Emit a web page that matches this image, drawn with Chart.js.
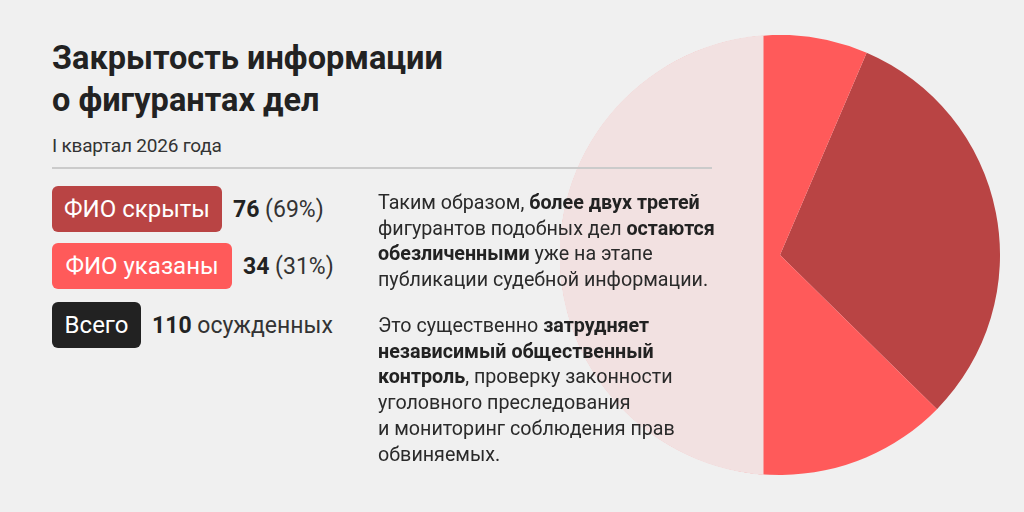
<!DOCTYPE html>
<html lang="ru">
<head>
<meta charset="utf-8">
<script src="https://cdn.jsdelivr.net/npm/chart.js@4"></script>
<style>
  html, body { margin: 0; padding: 0; }
  body {
    width: 1024px; height: 512px; overflow: hidden;
    background: #f0f0f0; position: relative;
    font-family: Roboto, "Noto Sans", sans-serif; color: #222;
  }
  #pie-wrap { position: absolute; left: 560px; top: 35px; width: 440px; height: 440px; z-index: 0; }
  .txt { position: absolute; z-index: 1; }
  .title { left: 52px; top: 37px; font-size: 32.5px; line-height: 42px; font-weight: 700; }
  .sub { left: 52px; top: 134px; font-size: 19px; line-height: 24px; color: #333; letter-spacing: -0.2px; }
  .rule { position: absolute; left: 52px; top: 167px; width: 660px; height: 2px; background: #cbcbcb; z-index: 1; }
  .row { position: absolute; left: 52px; display: flex; align-items: center; z-index: 1; }
  .tag { height: 46px; border-radius: 6px; color: #fff; font-size: 24px; display: flex;
         align-items: center; justify-content: center; }
  .val { font-size: 23px; margin-left: 11px; color: #333; }
  .val b { color: #222; }
  .para { left: 378px; font-size: 19.7px; line-height: 25.7px; color: #2a2a2a; }
  .para b { color: #222; }
</style>
</head>
<body>
<div id="pie-wrap"><canvas id="pie"></canvas></div>

<div class="txt title">Закрытость информации<br>о фигурантах дел</div>
<div class="txt sub">I квартал 2026 года</div>
<div class="rule"></div>

<div id="legend"></div>

<div class="txt para" style="top:190px">Таким образом, <b>более двух третей</b><br>фигурантов подобных дел <b>остаются</b><br><b>обезличенными</b> уже на этапе<br>публикации судебной информации.</div>
<div class="txt para" style="top:313px">Это существенно <b>затрудняет</b><br><b>независимый общественный</b><br><b>контроль</b>, проверку законности<br>уголовного преследования<br>и мониторинг соблюдения прав<br>обвиняемых.</div>

<script>
/* ---- DATA ---- */
const categories = ['ФИО скрыты', 'ФИО указаны'];
const counts     = [76, 34];
const shares     = ['69%', '31%'];
const totalLabel = 'Всего';
const totalCount = 110;
const totalUnit  = 'осужденных';

/* ---- COLOURS ---- */
const DARK  = '#b94444';
const RED   = '#ff5a5a';
const PINK  = '#f2e1e1';
const BLACK = '#222222';

/* ---- LEGEND ROWS (html) ---- */
const legendRows = [
  { label: categories[0], num: counts[0], rest: '(' + shares[0] + ')', color: DARK,  width: 170, top: 186 },
  { label: categories[1], num: counts[1], rest: '(' + shares[1] + ')', color: RED,   width: 180, top: 243 },
  { label: totalLabel,    num: totalCount, rest: totalUnit,           color: BLACK, width: 89,  top: 302 }
];
document.getElementById('legend').innerHTML = legendRows.map(r => `
  <div class="row" style="top:${r.top}px">
    <div class="tag" style="background:${r.color};width:${r.width}px">${r.label}</div>
    <div class="val"><b>${r.num}</b> ${r.rest}</div>
  </div>
`).join('');

/* ---- PINK SEGMENT: covers the circle left of a chord just left of centre ---- */
const pinkSegment = {
  id: 'pinkSegment',
  afterDatasetsDraw(chart) {
    const arc = chart.getDatasetMeta(0).data[0];
    if (!arc) return;
    const { x, y, outerRadius } = arc.getProps(['x', 'y', 'outerRadius'], true);
    const chordX = x - outerRadius * 0.075;
    const ctx = chart.ctx;
    ctx.save();
    ctx.beginPath();
    ctx.arc(x, y, outerRadius + 0.5, 0, Math.PI * 2);
    ctx.clip();
    ctx.fillStyle = PINK;
    ctx.fillRect(x - outerRadius - 2, y - outerRadius - 2, chordX - (x - outerRadius - 2), outerRadius * 2 + 4);
    ctx.restore();
  }
};

/* ---- PIE ---- */
// dark slice first (34 of 110), the rest red
new Chart(document.getElementById('pie'), {
  type: 'pie',
  data: {
    labels: [categories[1], categories[0]],
    datasets: [{
      data: [counts[1], counts[0]],
      backgroundColor: [DARK, RED],
      borderWidth: 0
    }]
  },
  options: {
    responsive: true,
    maintainAspectRatio: false,
    animation: false,
    rotation: 23.2,
    layout: { padding: 0 },
    plugins: { legend: { display: false }, tooltip: { enabled: false } }
  },
  plugins: [pinkSegment]
});
</script>
</body>
</html>
